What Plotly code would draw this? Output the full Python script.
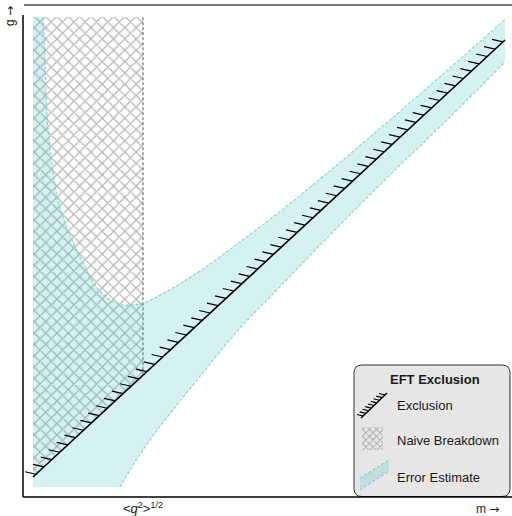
import numpy as np
import plotly.graph_objects as go

# Sketch units (arbitrary m, g) -- the axes carry no numbers.
m_range = [0, 489]
g_range = [0, 492]

# EFT exclusion line endpoints
m_excl = [10, 482]
g_excl = [20, 457]

# Naive breakdown: m below <q^2>^(1/2)
m_q = 120
m_min = 10
g_min = 10
g_max = 480

# Error-estimate band edges
m_upper = [20, 22, 24, 28.5, 33.5, 43.5, 58.5, 73.5, 87, 99, 120, 147, 177, 217, 257, 297, 337, 377, 427, 482]
g_upper = [480, 437, 380, 337, 304, 270, 237, 210, 197, 192, 194, 207.5, 226, 255, 285.5, 318, 351.4, 385.7, 429.1, 477.5]
m_lower = [97, 112, 127, 142, 174, 217, 247, 307, 367, 427, 482]
g_lower = [10, 35, 57, 77, 117, 169, 200, 262, 322, 380, 435]

x_tick_text = "&lt;<i>q</i><sup>2</sup>&gt;<sup>1/2</sup>"
legend_title = "EFT Exclusion"
legend_labels = ["Exclusion", "Naive Breakdown", "Error Estimate"]

FONT = "Liberation Sans, Arial, sans-serif"
ARROW = '<span style="font-family:DejaVu Sans">\u2192</span>'
BAND_FILL = "rgba(64,190,190,0.22)"
BAND_EDGE = "#7fd3d3"
HATCH = "#707070"

fig = go.Figure()


def excl_g(m):
    return np.interp(m, m_excl, g_excl)


def add_ticks(x0, y0, x1, y1, n, dx, dy, width):
    xs, ys = [], []
    for t in np.linspace(0, 1, n):
        x = x0 + (x1 - x0) * t
        y = y0 + (y1 - y0) * t
        xs += [x, x + dx, None]
        ys += [y, y + dy, None]
    fig.add_trace(go.Scatter(x=xs, y=ys, mode="lines", line=dict(color="black", width=width),
                             hoverinfo="skip", showlegend=False))


# Naive breakdown region (crosshatched, above the exclusion line)
g_at_q = float(excl_g(m_q))
fig.add_trace(go.Scatter(
    x=[m_min, m_q, m_q, m_min, m_min],
    y=[g_excl[0], g_at_q, g_max, g_max, g_excl[0]],
    mode="none", fill="toself", fillcolor="rgba(0,0,0,0)",
    fillpattern=dict(shape="x", fgcolor=HATCH, bgcolor="rgba(0,0,0,0)", size=8, solidity=0.3),
    hoverinfo="skip", showlegend=False))
fig.add_trace(go.Scatter(x=[m_q, m_q], y=[g_at_q, g_max], mode="lines",
                         line=dict(color=HATCH, width=1.2, dash="3px,2px"),
                         hoverinfo="skip", showlegend=False))

# Error-estimate band
band_x = [m_min] + m_lower + m_upper[::-1] + [m_min]
band_y = [g_min] + g_lower + g_upper[::-1] + [g_max]
fig.add_trace(go.Scatter(x=band_x, y=band_y, mode="none", fill="toself", fillcolor=BAND_FILL,
                         hoverinfo="skip", showlegend=False))
for xs, ys in ((m_upper, g_upper), (m_lower, g_lower)):
    fig.add_trace(go.Scatter(x=xs, y=ys, mode="lines",
                             line=dict(color=BAND_EDGE, width=1.1, dash="3px,2px", shape="spline"),
                             hoverinfo="skip", showlegend=False))

# Exclusion line with hatch ticks on the excluded side
fig.add_trace(go.Scatter(x=m_excl, y=g_excl, mode="lines", line=dict(color="black", width=1.6),
                         hoverinfo="skip", showlegend=False))
add_ticks(m_excl[0] + 3, excl_g(m_excl[0] + 3), m_excl[1] - 2, excl_g(m_excl[1] - 2), 60, -11, 2.5, 1.2)

# ---- legend panel ----
bx0, bx1, by0, by1, r = 331, 487, 0.5, 132, 8
fig.add_shape(type="path", xref="x", yref="y", layer="below",
              path=(f"M {bx0+r},{by0} L {bx1-r},{by0} Q {bx1},{by0} {bx1},{by0+r} "
                    f"L {bx1},{by1-r} Q {bx1},{by1} {bx1-r},{by1} L {bx0+r},{by1} "
                    f"Q {bx0},{by1} {bx0},{by1-r} L {bx0},{by0+r} Q {bx0},{by0} {bx0+r},{by0} Z"),
              fillcolor="#e6e6e6", line=dict(color="#333333", width=1))

# exclusion icon
fig.add_trace(go.Scatter(x=[338, 364], y=[79, 104], mode="lines", line=dict(color="black", width=1.4),
                         hoverinfo="skip", showlegend=False))
add_ticks(340, 81, 362, 102, 9, -6, 1.5, 1.1)

# naive breakdown icon
fig.add_trace(go.Scatter(x=[339, 360, 360, 339, 339], y=[47, 47, 70, 70, 47], mode="none",
                         fill="toself", fillcolor="rgba(0,0,0,0)",
                         fillpattern=dict(shape="x", fgcolor=HATCH, bgcolor="rgba(0,0,0,0)", size=5, solidity=0.35),
                         hoverinfo="skip", showlegend=False))

# error estimate icon
fig.add_trace(go.Scatter(x=[337, 366, 366, 337, 337], y=[7, 26, 37, 19, 7], mode="none",
                         fill="toself", fillcolor=BAND_FILL, hoverinfo="skip", showlegend=False))
for xs, ys in (([337, 366], [19, 37]), ([337, 366], [7, 26])):
    fig.add_trace(go.Scatter(x=xs, y=ys, mode="lines",
                             line=dict(color=BAND_EDGE, width=1.1, dash="3px,2px"),
                             hoverinfo="skip", showlegend=False))

annots = [
    dict(x=412, y=118, text=f"<b>{legend_title}</b>", xanchor="center", yanchor="middle",
         font=dict(size=13, color="#1a1a1a", family=FONT)),
    dict(x=372, y=92, text=legend_labels[0], xanchor="left", yanchor="middle",
         font=dict(size=13, color="#1a1a1a", family=FONT)),
    dict(x=372, y=57, text=legend_labels[1], xanchor="left", yanchor="middle",
         font=dict(size=13, color="#1a1a1a", family=FONT)),
    dict(x=372, y=20, text=legend_labels[2], xanchor="left", yanchor="middle",
         font=dict(size=13, color="#1a1a1a", family=FONT)),
]
for a in annots:
    a.update(xref="x", yref="y", showarrow=False)

# axis titles
annots.append(dict(xref="paper", yref="paper", x=-13 / 489, y=(497 - 16) / 492, text="g " + ARROW,
                   textangle=-90, showarrow=False, xanchor="center", yanchor="middle",
                   font=dict(size=12, color="#1a1a1a", family=FONT)))
annots.append(dict(xref="paper", yref="paper", x=(501 - 23) / 489, y=-12 / 492, text="m " + ARROW,
                   showarrow=False, xanchor="right", yanchor="middle",
                   font=dict(size=12, color="#1a1a1a", family=FONT)))

# frame: left and bottom spines, grey top rule
fig.add_shape(type="line", xref="paper", yref="paper", x0=0, x1=0, y0=0, y1=(497 - 15) / 492,
              line=dict(color="black", width=1.5))
fig.add_shape(type="line", xref="paper", yref="paper", x0=0, x1=1, y0=0, y1=0,
              line=dict(color="black", width=1.5))
fig.add_shape(type="line", xref="paper", yref="paper", x0=1 / 489, x1=1, y0=1, y1=1,
              line=dict(color="#777777", width=2))

fig.update_layout(
    width=512, height=516,
    margin=dict(l=23, r=0, t=5, b=19),
    paper_bgcolor="white", plot_bgcolor="white",
    showlegend=False,
    annotations=annots,
    font=dict(family=FONT, size=12, color="#1a1a1a"),
    xaxis=dict(range=m_range, showgrid=False, zeroline=False, showline=False,
               tickvals=[m_q], ticktext=[x_tick_text], ticks="", ticklabelstandoff=2,
               tickfont=dict(size=13, family=FONT)),
    yaxis=dict(range=g_range, showgrid=False, zeroline=False, showline=False,
               showticklabels=False, ticks=""),
)

fig.write_html("out.html")
